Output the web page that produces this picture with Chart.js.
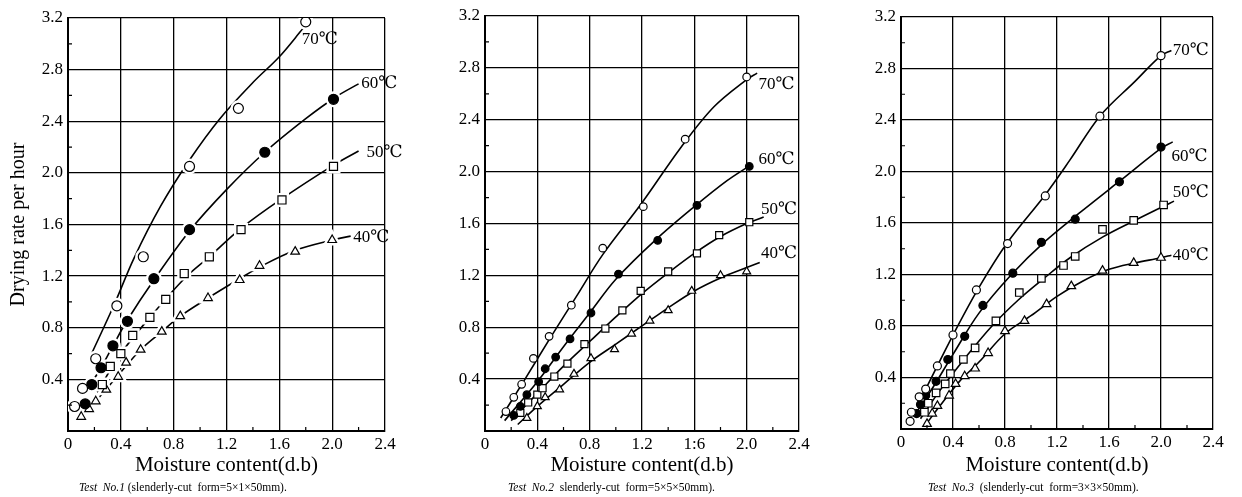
<!DOCTYPE html>
<html><head><meta charset="utf-8">
<script src="https://cdn.jsdelivr.net/npm/chart.js@4.4.1/dist/chart.umd.min.js"></script>
<style>
html,body{margin:0;padding:0;background:#fff;}
#wrap{position:relative;width:1242px;height:497px;overflow:hidden;}
canvas{position:absolute;left:0;top:0;}
</style></head><body>
<div id="wrap">
<canvas id="c1" width="1242" height="497"></canvas>
<canvas id="c2" width="1242" height="497"></canvas>
<canvas id="c3" width="1242" height="497"></canvas>
</div>
<script>
// ---------- tick labels ----------
const yTickLabels = ['', '0.4', '0.8', '1.2', '1.6', '2.0', '2.4', '2.8', '3.2'];
const xTickLabels1 = ['0', '0.4', '0.8', '1.2', '1.6', '2.0', '2.4'];
const xTickLabels2 = ['0', '0.4', '0.8', '1.2', '1:6', '2.0', '2.4'];
const xTickLabels3 = ['0', '0.4', '0.8', '1.2', '1.6', '2.0', '2.4'];
const seriesNames = ['70℃', '60℃', '50℃', '40℃'];

// ---------- Test No.1 : measured points [moisture, rate] ----------
const p1_70 = [[0.05,0.19],[0.11,0.33],[0.21,0.56],[0.37,0.97],[0.57,1.35],[0.92,2.05],[1.29,2.50],[1.80,3.17]];
const p1_60 = [[0.13,0.21],[0.18,0.36],[0.25,0.49],[0.34,0.66],[0.45,0.85],[0.65,1.18],[0.92,1.56],[1.49,2.16],[2.01,2.57]];
const p1_50 = [[0.26,0.36],[0.32,0.50],[0.40,0.60],[0.49,0.74],[0.62,0.88],[0.74,1.02],[0.88,1.22],[1.07,1.35],[1.31,1.56],[1.62,1.79],[2.01,2.05]];
const p1_40 = [[0.10,0.11],[0.16,0.17],[0.21,0.23],[0.29,0.32],[0.38,0.42],[0.44,0.53],[0.55,0.63],[0.71,0.77],[0.85,0.89],[1.06,1.03],[1.30,1.17],[1.45,1.28],[1.72,1.39],[2.00,1.48]];
// fitted curves
const p1c_70 = [[0.17,0.58],[0.35,0.98],[0.5,1.34],[0.7,1.74],[0.92,2.1],[1.15,2.42],[1.4,2.7],[1.6,2.9],[1.78,3.12]];
const p1c_60 = [[0.12,0.28],[0.25,0.49],[0.34,0.66],[0.45,0.86],[0.65,1.17],[0.92,1.55],[1.2,1.87],[1.49,2.16],[1.8,2.42],[2.03,2.59],[2.2,2.69]];
const p1c_50 = [[0.22,0.3],[0.4,0.6],[0.62,0.88],[0.88,1.18],[1.07,1.35],[1.31,1.57],[1.62,1.8],[2.01,2.06],[2.2,2.17]];
const p1c_40 = [[0.08,0.08],[0.21,0.23],[0.37,0.42],[0.55,0.63],[0.71,0.77],[0.85,0.89],[1.06,1.03],[1.3,1.18],[1.45,1.27],[1.72,1.4],[2.0,1.48],[2.14,1.51]];
const p1_labelAt = [[1.77,3.03],[2.22,2.69],[2.26,2.16],[2.16,1.50]];

// ---------- Test No.2 ----------
const p2_70 = [[0.16,0.15],[0.22,0.26],[0.28,0.36],[0.37,0.56],[0.49,0.73],[0.66,0.97],[0.90,1.41],[1.21,1.73],[1.53,2.25],[2.00,2.73]];
const p2_60 = [[0.22,0.12],[0.27,0.19],[0.32,0.28],[0.41,0.38],[0.46,0.48],[0.54,0.57],[0.65,0.71],[0.81,0.91],[1.02,1.21],[1.32,1.47],[1.62,1.74],[2.02,2.04]];
const p2_50 = [[0.27,0.14],[0.33,0.22],[0.40,0.28],[0.44,0.33],[0.53,0.42],[0.63,0.52],[0.76,0.67],[0.92,0.79],[1.05,0.93],[1.19,1.08],[1.40,1.23],[1.62,1.37],[1.79,1.51],[2.02,1.61]];
const p2_40 = [[0.32,0.10],[0.40,0.19],[0.46,0.26],[0.57,0.32],[0.68,0.44],[0.81,0.56],[0.99,0.63],[1.12,0.75],[1.26,0.85],[1.40,0.93],[1.58,1.08],[1.80,1.20],[2.00,1.23]];
const p2c_70 = [[0.12,0.1],[0.3,0.39],[0.5,0.72],[0.7,1.04],[0.9,1.36],[1.2,1.76],[1.5,2.19],[1.75,2.5],[2.0,2.71],[2.08,2.76]];
const p2c_60 = [[0.15,0.08],[0.4,0.38],[0.6,0.65],[0.8,0.91],[1.0,1.17],[1.3,1.47],[1.6,1.73],[1.85,1.93],[2.03,2.05]];
const p2c_50 = [[0.2,0.08],[0.4,0.29],[0.6,0.5],[0.8,0.69],[1.0,0.88],[1.2,1.06],[1.4,1.22],[1.6,1.37],[1.8,1.5],[2.0,1.6],[2.13,1.65]];
const p2c_40 = [[0.25,0.05],[0.4,0.19],[0.6,0.36],[0.8,0.53],[1.0,0.67],[1.2,0.81],[1.4,0.95],[1.6,1.08],[1.8,1.18],[2.0,1.26],[2.1,1.3]];
const p2_labelAt = [[2.09,2.67],[2.09,2.09],[2.11,1.71],[2.11,1.37]];

// ---------- Test No.3 ----------
const p3_70 = [[0.07,0.06],[0.08,0.13],[0.14,0.25],[0.19,0.31],[0.28,0.49],[0.40,0.73],[0.58,1.08],[0.82,1.44],[1.11,1.81],[1.53,2.43],[2.00,2.90]];
const p3_60 = [[0.12,0.12],[0.15,0.19],[0.19,0.26],[0.27,0.37],[0.36,0.54],[0.49,0.72],[0.63,0.96],[0.86,1.21],[1.08,1.45],[1.34,1.63],[1.68,1.92],[2.00,2.19]];
const p3_50 = [[0.18,0.13],[0.21,0.20],[0.27,0.28],[0.34,0.35],[0.38,0.43],[0.48,0.54],[0.57,0.63],[0.73,0.84],[0.91,1.06],[1.08,1.17],[1.25,1.27],[1.34,1.34],[1.55,1.55],[1.79,1.62],[2.02,1.74]];
const p3_40 = [[0.20,0.04],[0.24,0.12],[0.28,0.18],[0.37,0.26],[0.42,0.35],[0.49,0.41],[0.57,0.47],[0.67,0.59],[0.80,0.76],[0.95,0.84],[1.12,0.97],[1.31,1.11],[1.55,1.23],[1.79,1.29],[2.00,1.33]];
const p3c_70 = [[0.2,0.33],[0.4,0.73],[0.6,1.1],[0.82,1.45],[1.11,1.82],[1.3,2.09],[1.53,2.43],[1.8,2.7],[2.0,2.9],[2.08,2.94]];
const p3c_60 = [[0.1,0.1],[0.25,0.33],[0.4,0.58],[0.6,0.9],[0.85,1.2],[1.1,1.45],[1.4,1.7],[1.7,1.94],[2.0,2.18],[2.09,2.23]];
const p3c_50 = [[0.15,0.08],[0.3,0.3],[0.5,0.56],[0.7,0.8],[0.9,1.0],[1.1,1.17],[1.3,1.33],[1.55,1.49],[1.8,1.62],[2.02,1.73],[2.1,1.77]];
const p3c_40 = [[0.18,0.02],[0.3,0.18],[0.45,0.37],[0.6,0.52],[0.8,0.74],[1.0,0.88],[1.2,1.03],[1.4,1.15],[1.6,1.24],[1.8,1.29],[2.0,1.33],[2.08,1.35]];
const p3_labelAt = [[2.09,2.94],[2.08,2.12],[2.09,1.84],[2.09,1.35]];

const captions = [
  ['Test  No.1', ' (slenderly-cut  form=5×1×50mm).'],
  ['Test  No.2', '  slenderly-cut  form=5×5×50mm).'],
  ['Test  No.3', '  (slenderly-cut  form=3×3×50mm).']
];

// ---------- styling ----------
const SERIF = '"Liberation Serif", "DejaVu Serif", "Noto Serif CJK JP", serif';
const xy = a => a.map(p => ({x: p[0], y: p[1]}));
const markerStyles = [
  {pointStyle: 'circle', bg: '#fff'},
  {pointStyle: 'circle', bg: '#000'},
  {pointStyle: 'rect', bg: '#fff'},
  {pointStyle: 'triangle', bg: '#fff'}
];

const decor = {
  id: 'decor',
  afterDraw(chart, args, o) {
    const ctx = chart.ctx, ca = chart.chartArea;
    const xs = chart.scales.x, ys = chart.scales.y;
    ctx.save();
    // inward minor ticks
    ctx.strokeStyle = '#000'; ctx.lineWidth = 1.2;
    ctx.beginPath();
    for (let i = 1; i < 16; i += 2) {
      const py = ys.getPixelForValue(i * 0.2);
      ctx.moveTo(ca.left, py); ctx.lineTo(ca.left + 4, py);
    }
    for (let i = 1; i < 12; i += 2) {
      const px = xs.getPixelForValue(i * 0.2);
      ctx.moveTo(px, ca.bottom); ctx.lineTo(px, ca.bottom - 4);
    }
    ctx.stroke();
    // curve labels
    ctx.fillStyle = '#000';
    ctx.font = '17px ' + SERIF;
    ctx.textAlign = 'left'; ctx.textBaseline = 'middle';
    o.labelAt.forEach((p, i) => {
      ctx.fillText(seriesNames[i], xs.getPixelForValue(p[0]), ys.getPixelForValue(p[1]));
    });
    // caption
    const cx = ca.left + o.capOffset, cy = 488;
    ctx.textBaseline = 'middle';
    ctx.font = 'italic 11.5px ' + SERIF;
    ctx.fillText(o.caption[0], cx, cy);
    const w = ctx.measureText(o.caption[0]).width;
    ctx.font = '11.5px ' + SERIF;
    ctx.fillText(o.caption[1], cx + w, cy);
    ctx.restore();
  }
};

function makeChart(id, cfg) {
  const datasets = [];
  cfg.points.forEach((pts, i) => {
    const st = markerStyles[i];
    datasets.push({
      label: seriesNames[i], data: xy(pts), showLine: false, order: 0,
      pointStyle: st.pointStyle, pointRadius: cfg.radii[i],
      pointBackgroundColor: st.bg, pointBorderColor: '#000', pointBorderWidth: 1.2
    });
    if (cfg.halo) {
      datasets.push({
        label: seriesNames[i] + ' halo', data: xy(pts), showLine: false, order: 1,
        pointStyle: st.pointStyle, pointRadius: cfg.radii[i],
        pointBackgroundColor: '#fff', pointBorderColor: '#fff', pointBorderWidth: 6
      });
    }
    datasets.push({
      label: seriesNames[i] + ' curve', data: xy(cfg.curves[i]), showLine: true, order: 2,
      pointRadius: 0, borderColor: '#000', borderWidth: 1.6,
      tension: 0.35, fill: false
    });
  });
  const tickFont = {family: SERIF, size: 17};
  return new Chart(document.getElementById(id), {
    type: 'scatter',
    data: {datasets},
    options: {
      responsive: false, animation: false, devicePixelRatio: 1,
      layout: {padding: {left: cfg.L - cfg.yw, right: 1242 - cfg.R, top: cfg.T, bottom: 19}},
      plugins: {
        legend: {display: false}, tooltip: {enabled: false},
        decor: {labelAt: cfg.labelAt, caption: cfg.caption, capOffset: cfg.capOffset}
      },
      scales: {
        x: {
          type: 'linear', position: 'bottom', min: 0, max: 2.4,
          afterFit: s => { s.height = 478 - cfg.B; },
          ticks: {stepSize: 0.4, autoSkip: false, maxRotation: 0, padding: 3, color: '#000', font: tickFont,
                  callback: (v, i) => cfg.xLabels[i]},
          grid: {color: '#000', lineWidth: 1.3, drawTicks: false},
          border: {display: true, color: '#000', width: 2},
          title: {display: true, text: 'Moisture content(d.b)', color: '#000',
                  font: {family: SERIF, size: 21}, padding: 0}
        },
        y: {
          type: 'linear', position: 'left', min: 0, max: 3.2,
          afterFit: s => { s.width = cfg.yw; },
          ticks: {stepSize: 0.4, autoSkip: false, padding: 5, color: '#000', font: tickFont,
                  callback: (v, i) => yTickLabels[i]},
          grid: {color: '#000', lineWidth: 1.3, drawTicks: false},
          border: {display: true, color: '#000', width: 2},
          title: {display: cfg.ytitle, text: 'Drying rate per hour', color: '#000',
                  font: {family: SERIF, size: 20}, padding: 0}
        }
      }
    },
    plugins: [decor]
  });
}

makeChart('c1', {
  L: 68, R: 385, T: 18, B: 431, yw: 61, ytitle: true, halo: true,
  points: [p1_70, p1_60, p1_50, p1_40], curves: [p1c_70, p1c_60, p1c_50, p1c_40],
  radii: [5, 5, 5.7, 5], labelAt: p1_labelAt, xLabels: xTickLabels1,
  caption: captions[0], capOffset: 11
});
makeChart('c2', {
  L: 485, R: 799, T: 16, B: 431, yw: 40, ytitle: false, halo: false,
  points: [p2_70, p2_60, p2_50, p2_40], curves: [p2c_70, p2c_60, p2c_50, p2c_40],
  radii: [3.8, 3.8, 5, 4.6], labelAt: p2_labelAt, xLabels: xTickLabels2,
  caption: captions[1], capOffset: 23
});
makeChart('c3', {
  L: 901, R: 1213, T: 17, B: 429, yw: 40, ytitle: false, halo: false,
  points: [p3_70, p3_60, p3_50, p3_40], curves: [p3c_70, p3c_60, p3c_50, p3c_40],
  radii: [4, 4, 5.3, 5], labelAt: p3_labelAt, xLabels: xTickLabels3,
  caption: captions[2], capOffset: 27
});
</script>
</body></html>
